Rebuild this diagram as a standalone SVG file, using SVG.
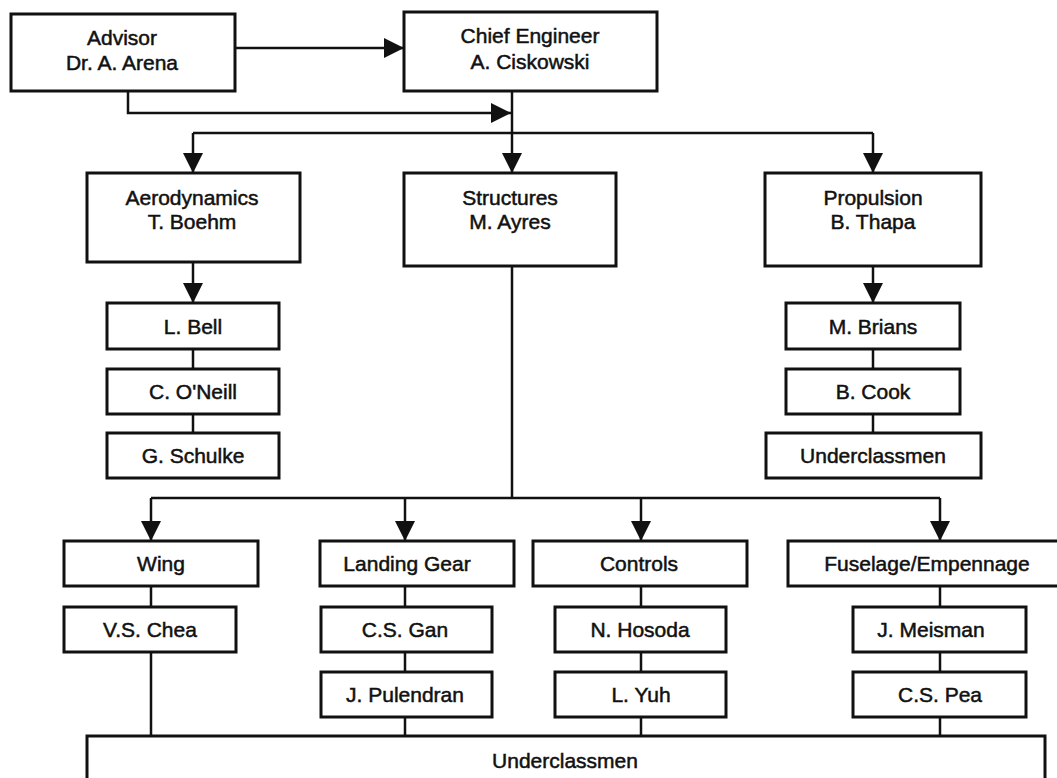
<svg xmlns="http://www.w3.org/2000/svg" width="1057" height="778" viewBox="0 0 1057 778">
<defs>
<style>
.box{fill:#fff;stroke:#111;stroke-width:3}
.t{font-family:"Liberation Sans",Arial,sans-serif;font-size:21px;fill:#111;stroke:#111;stroke-width:0.5;text-anchor:middle}
.c{fill:none;stroke:#111;stroke-width:2.5}
.a{marker-end:url(#ah)}
</style>
<marker id="ah" markerWidth="20" markerHeight="20" refX="20" refY="10" orient="auto" markerUnits="userSpaceOnUse"><path d="M0,0 L20,10 L0,20 z" fill="#111"/></marker>
</defs>
<rect width="1057" height="778" fill="#fff"/>
<g id="connectors">
<path class="c a" d="M235,48 H404"/>
<path class="c a" d="M128,91 V113 H511"/>
<path class="c a" d="M512,91 V173"/>
<path class="c" d="M193,133 H873"/>
<path class="c a" d="M193,133 V173"/>
<path class="c a" d="M873,133 V173"/>
<path class="c a" d="M193,262 V303"/>
<path class="c" d="M193,349 V369 M193,414 V433"/>
<path class="c a" d="M873,266 V303"/>
<path class="c" d="M873,349 V369 M873,414 V433"/>
<path class="c" d="M512,266 V498 M151,498 H940"/>
<path class="c a" d="M151,498 V541"/>
<path class="c a" d="M405,498 V541"/>
<path class="c a" d="M641,498 V541"/>
<path class="c a" d="M940,498 V541"/>
<path class="c" d="M151,586 V607 M151,652 V736"/>
<path class="c" d="M405,586 V607 M405,652 V672 M405,717 V736"/>
<path class="c" d="M641,586 V607 M641,652 V672 M641,717 V736"/>
<path class="c" d="M940,586 V607 M940,652 V672 M940,717 V736"/>
</g>
<g id="advisor"><rect class="box" x="11" y="14" width="224" height="77"/><text class="t" x="122" y="45">Advisor</text><text class="t" x="122" y="70">Dr. A. Arena</text></g>
<g id="chief"><rect class="box" x="404" y="12" width="253" height="79"/><text class="t" x="530" y="43">Chief Engineer</text><text class="t" x="530" y="69">A. Ciskowski</text></g>
<g id="aero"><rect class="box" x="87" y="173" width="213" height="89"/><text class="t" x="192" y="205">Aerodynamics</text><text class="t" x="192" y="229">T. Boehm</text></g>
<g id="structures"><rect class="box" x="404" y="173" width="212" height="93"/><text class="t" x="510" y="205">Structures</text><text class="t" x="510" y="229">M. Ayres</text></g>
<g id="propulsion"><rect class="box" x="765" y="173" width="216" height="93"/><text class="t" x="873" y="205">Propulsion</text><text class="t" x="873" y="229">B. Thapa</text></g>
<g id="bell"><rect class="box" x="107" y="303" width="172" height="46"/><text class="t" x="193" y="334">L. Bell</text></g>
<g id="oneill"><rect class="box" x="107" y="369" width="172" height="45"/><text class="t" x="193" y="399">C. O'Neill</text></g>
<g id="schulke"><rect class="box" x="107" y="433" width="172" height="45"/><text class="t" x="193" y="463">G. Schulke</text></g>
<g id="brians"><rect class="box" x="786" y="303" width="174" height="46"/><text class="t" x="873" y="334">M. Brians</text></g>
<g id="cook"><rect class="box" x="786" y="369" width="174" height="45"/><text class="t" x="873" y="399">B. Cook</text></g>
<g id="prop-under"><rect class="box" x="766" y="433" width="215" height="45"/><text class="t" x="873" y="463">Underclassmen</text></g>
<g id="wing"><rect class="box" x="64" y="541" width="194" height="45"/><text class="t" x="161" y="571">Wing</text></g>
<g id="landing"><rect class="box" x="320" y="541" width="194" height="45"/><text class="t" x="407" y="571">Landing Gear</text></g>
<g id="controls"><rect class="box" x="533" y="541" width="214" height="45"/><text class="t" x="639" y="571">Controls</text></g>
<g id="fuselage"><rect class="box" x="788" y="541" width="278" height="45"/><text class="t" x="927" y="571">Fuselage/Empennage</text></g>
<g id="chea"><rect class="box" x="64" y="607" width="172" height="45"/><text class="t" x="150" y="637">V.S. Chea</text></g>
<g id="gan"><rect class="box" x="321" y="607" width="171" height="45"/><text class="t" x="405" y="637">C.S. Gan</text></g>
<g id="pulendran"><rect class="box" x="321" y="672" width="171" height="45"/><text class="t" x="405" y="702">J. Pulendran</text></g>
<g id="hosoda"><rect class="box" x="555" y="607" width="171" height="45"/><text class="t" x="640" y="637">N. Hosoda</text></g>
<g id="yuh"><rect class="box" x="555" y="672" width="171" height="45"/><text class="t" x="641" y="702">L. Yuh</text></g>
<g id="meisman"><rect class="box" x="853" y="607" width="173" height="45"/><text class="t" x="931" y="637">J. Meisman</text></g>
<g id="pea"><rect class="box" x="853" y="672" width="173" height="45"/><text class="t" x="940" y="702">C.S. Pea</text></g>
<g id="under"><rect class="box" x="87" y="736" width="958" height="60"/><text class="t" x="565" y="768">Underclassmen</text></g>
</svg>
